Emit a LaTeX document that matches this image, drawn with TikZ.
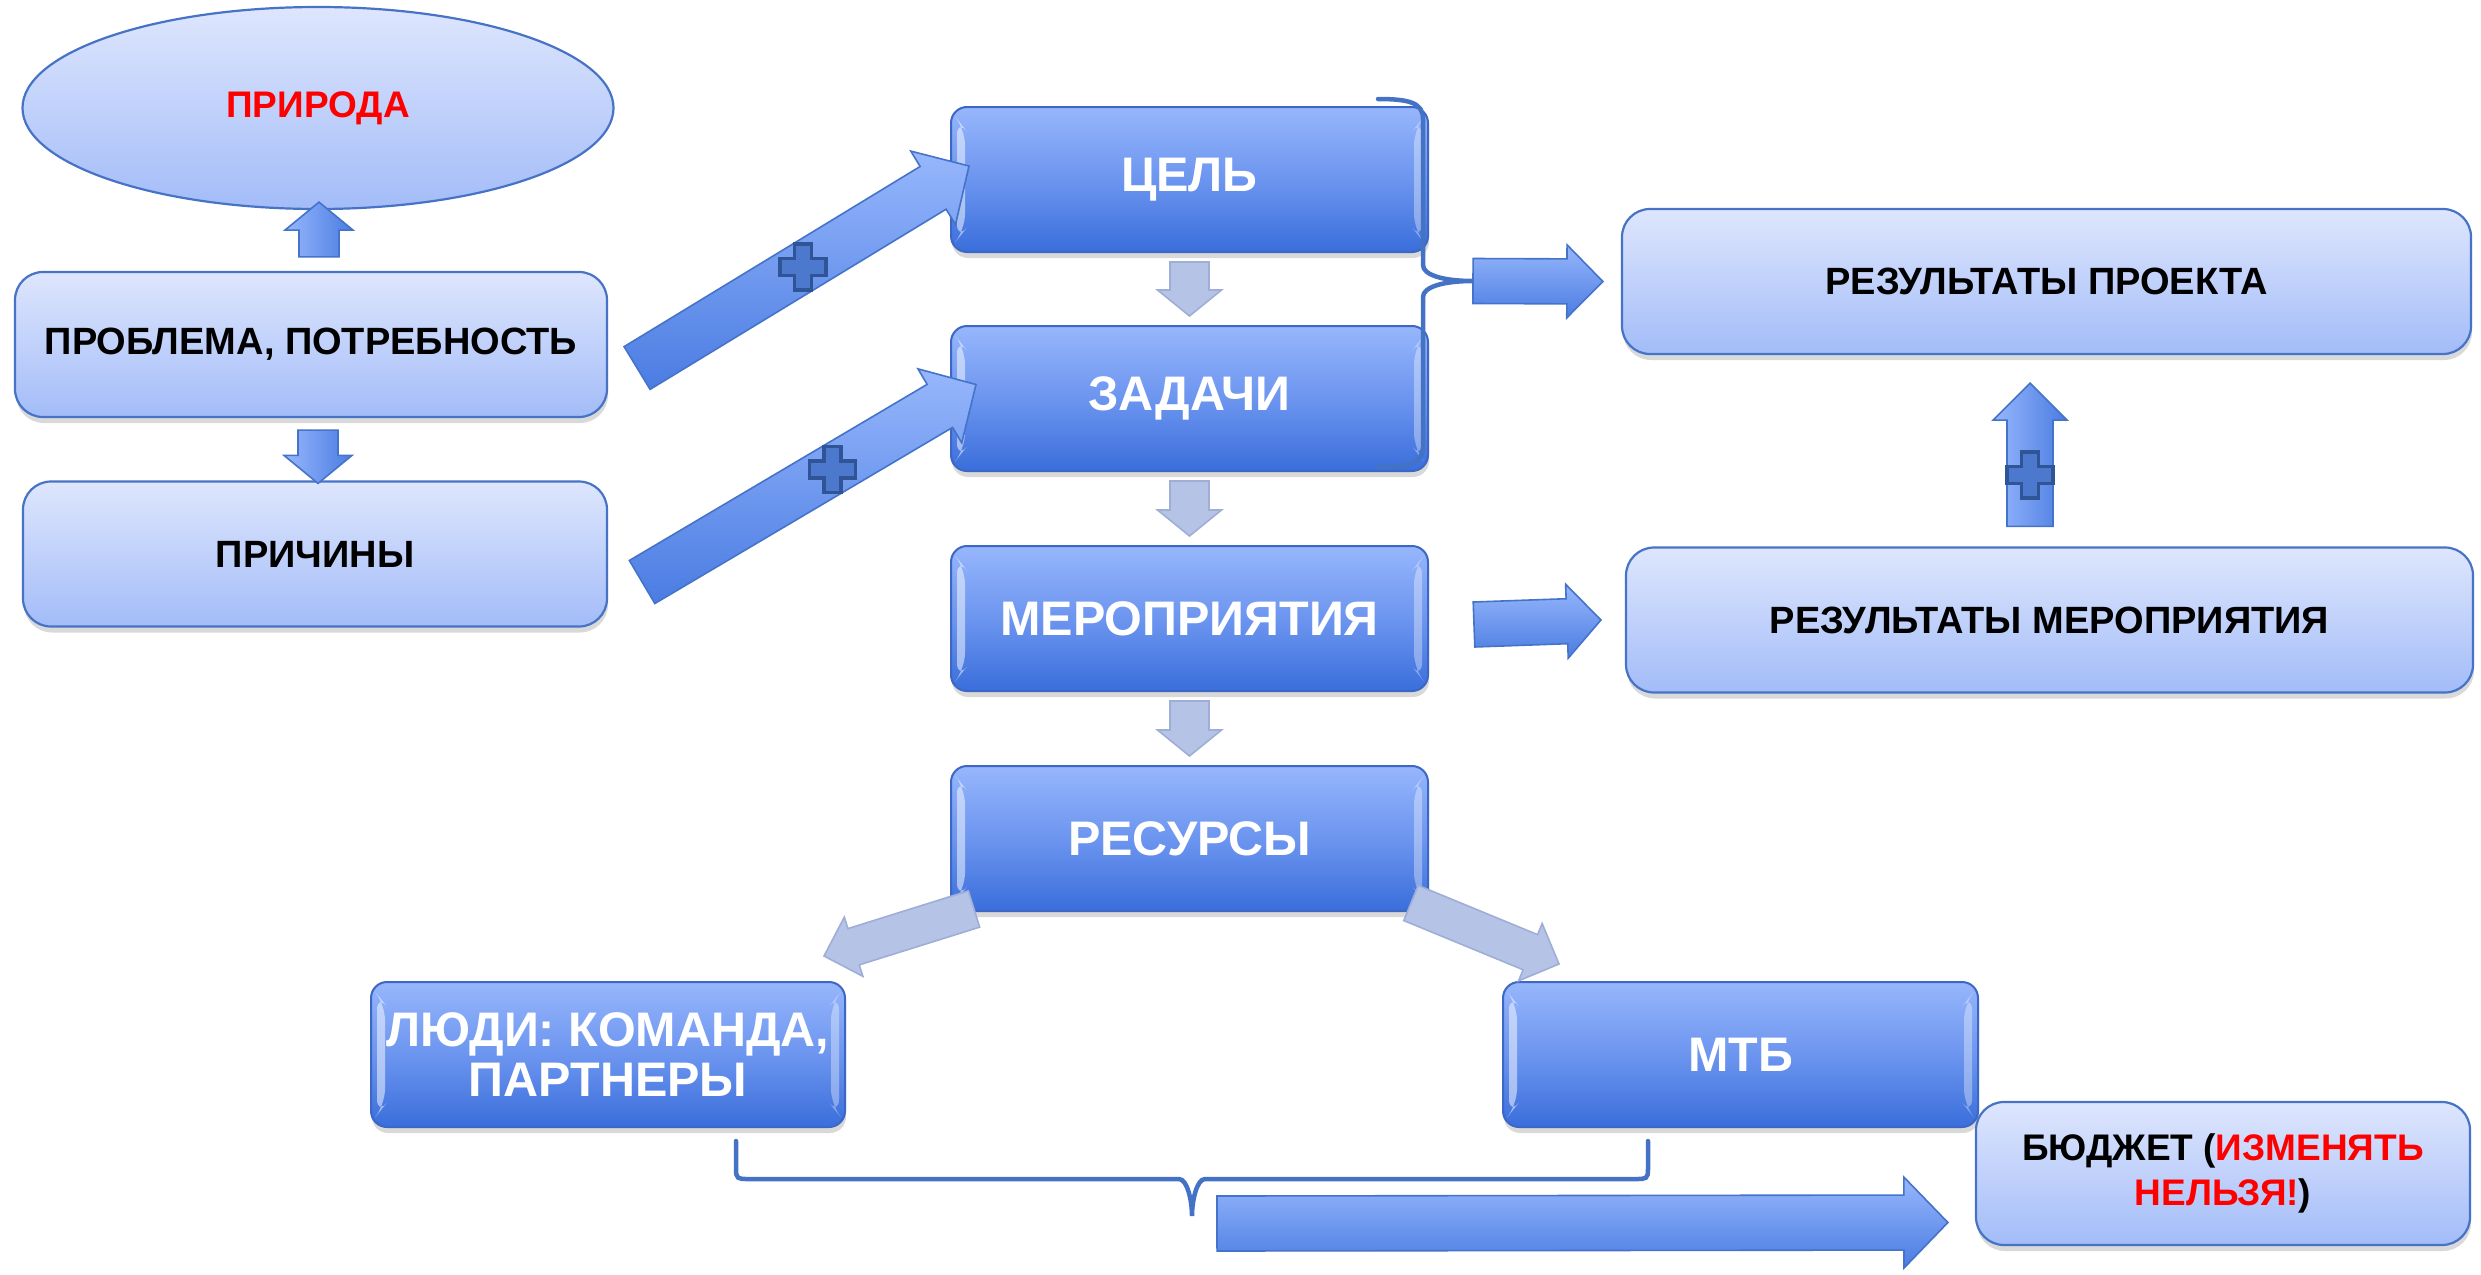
\documentclass[tikz,border=0pt]{standalone}
\usepackage{fontspec}
\setmainfont{Liberation Sans}
\usetikzlibrary{positioning,calc,shapes.geometric,shadows}

\definecolor{lighttop}{HTML}{DEE6FD}
\definecolor{lightbot}{HTML}{A3BCF8}
\definecolor{lightline}{HTML}{4773C6}
\definecolor{darktop}{HTML}{97B6FC}
\definecolor{darkmid}{HTML}{6C95EF}
\definecolor{darkbot}{HTML}{3A6EDB}
\definecolor{darkline}{HTML}{3C67C4}
\definecolor{arrowtop}{HTML}{97B7FC}
\definecolor{arrowbot}{HTML}{4A7CE2}
\definecolor{arrowline}{HTML}{4473C9}
\definecolor{greyfill}{HTML}{B4C3E6}
\definecolor{greyline}{HTML}{9EAED6}
\definecolor{plusfill}{HTML}{4C78CE}
\definecolor{plusline}{HTML}{2F5597}
\definecolor{bracecol}{HTML}{4472C4}

\tikzset{
  boxshadow/.style={drop shadow={shadow xshift=1pt, shadow yshift=-6pt, opacity=.25, fill=black!60}},
  lightbox/.style={rectangle, rounded corners=28pt, draw=lightline, line width=2.2pt,
    top color=lighttop, bottom color=lightbot, inner sep=0pt, align=center,
    minimum height=145pt, text=black, font=\bfseries\fontsize{38}{44}\selectfont, boxshadow},
  darkbox/.style={rectangle, rounded corners=16pt, draw=darkline, line width=2pt,
    top color=darktop, bottom color=darkbot, middle color=darkmid,
    minimum width=477pt, minimum height=145pt, inner sep=0pt, align=center,
    text=white, font=\bfseries\fontsize{48.5}{50}\selectfont, boxshadow,
    path picture={
      \fill[white, opacity=.5] ([xshift=6pt,yshift=-12pt]path picture bounding box.north west)
        -- ([xshift=14pt,yshift=-22pt]path picture bounding box.north west)
        -- ([xshift=14pt,yshift=22pt]path picture bounding box.south west)
        -- ([xshift=6pt,yshift=12pt]path picture bounding box.south west) -- cycle;
      \fill[white, opacity=.35] ([xshift=-6pt,yshift=-12pt]path picture bounding box.north east)
        -- ([xshift=-14pt,yshift=-22pt]path picture bounding box.north east)
        -- ([xshift=-14pt,yshift=22pt]path picture bounding box.south east)
        -- ([xshift=-6pt,yshift=12pt]path picture bounding box.south east) -- cycle;
    }},
  bluearrow/.style={draw=arrowline, line width=1.6pt, top color=arrowtop, bottom color=arrowbot},
  sidearrow/.style={draw=arrowline, line width=1.6pt, left color=arrowtop, right color=arrowbot},
  greyarrow/.style={draw=greyline, line width=1.6pt, fill=greyfill},
  bracket/.style={draw=bracecol, line width=4.5pt, line cap=round},
  plusmark/.style={fill=plusfill, draw=plusline, line width=3.5pt},
  pics/plussign/.style={code={
    \path[plusmark] (-8.5,-23) -- (8.5,-23) -- (8.5,-8.5) -- (23,-8.5) -- (23,8.5)
      -- (8.5,8.5) -- (8.5,23) -- (-8.5,23) -- (-8.5,8.5) -- (-23,8.5) -- (-23,-8.5)
      -- (-8.5,-8.5) -- cycle;}}
}

% block arrow: [style]{tail}{tip}{half shaft}{half head}{head length}
\newcommand{\blockarrow}[6][]{%
  \coordinate (ba-h) at ($(#3)!#6!(#2)$);
  \path[#1] ($(#2)!#4!90:(#3)$) -- ($(ba-h)!#4!90:(#3)$) -- ($(ba-h)!#5!90:(#3)$)
    -- (#3) -- ($(ba-h)!#5!-90:(#3)$) -- ($(ba-h)!#4!-90:(#3)$)
    -- ($(#2)!#4!-90:(#3)$) -- cycle;}

\begin{document}
\begin{tikzpicture}[x=1pt, y=-1pt]
  \useasboundingbox (0,0) rectangle (2481,1274);

  % left column
  \node[ellipse, draw=lightline, line width=2.2pt, top color=lighttop, bottom color=lightbot,
    minimum width=591pt, minimum height=202pt, inner sep=0pt, text=red,
    font=\bfseries\fontsize{37}{44}\selectfont] (nature) at (318,108) {ПРИРОДА};
  \node[lightbox, minimum width=592pt] (problem) at (311,344.5) {ПРОБЛЕМА, ПОТРЕБНОСТЬ};
  \node[lightbox, minimum width=584pt] (causes) at (315,554) {ПРИЧИНЫ};

  % middle column
  \node[darkbox] (goal) at (1189.5,179.5) {ЦЕЛЬ};
  \node[darkbox, below=72pt of goal] (tasks) {ЗАДАЧИ};
  \node[darkbox, below=73pt of tasks] (events) {МЕРОПРИЯТИЯ};
  \node[darkbox, below=73pt of events] (resources) {РЕСУРСЫ};
  \node[darkbox, minimum width=474pt] (people) at (608,1054.5) {ЛЮДИ: КОМАНДА,\\ПАРТНЕРЫ};
  \node[darkbox, minimum width=475pt] (mtb) at (1740.5,1054.5) {МТБ};

  % right column
  \node[lightbox, minimum width=849pt] (projres) at (2046.5,281.5) {РЕЗУЛЬТАТЫ ПРОЕКТА};
  \node[lightbox, minimum width=847pt] (evres) at (2049.5,620) {РЕЗУЛЬТАТЫ МЕРОПРИЯТИЯ};
  \node[lightbox, minimum width=494pt, minimum height=143pt,
    font=\bfseries\fontsize{37}{45}\selectfont] (budget) at (2223,1173.5)
    {БЮДЖЕТ (\textcolor{red}{ИЗМЕНЯТЬ}\\\textcolor{red}{НЕЛЬЗЯ!})};

  % braces
  \draw[bracket] ($(goal.north east)+(-51,-7)$) .. controls +(32,0) and +(0,-16) .. ++(45,20)
    -- ++(0,146) .. controls +(0,10) and +(-30,0) .. ++(50,16) coordinate (bt)
    .. controls +(-30,0) and +(0,-10) .. ++(-50,16) -- ++(0,150)
    .. controls +(0,16) and +(32,0) .. ++(-45,20);
  \draw[bracket] ($(people.south east)+(-110,13)$) -- ++(0,28)
    .. controls +(0,10) and +(-10,0) .. ++(12,10) -- ++(431,0)
    .. controls +(8,0) and +(0,-16) .. ++(13,37) coordinate (bb)
    .. controls +(0,-16) and +(-8,0) .. ++(13,-37) -- ++(431,0)
    .. controls +(10,0) and +(0,10) .. ++(12,-10) -- ++(0,-28);

  % arrow ends
  \coordinate (u1s) at ($(problem.north)+(8,-14)$);
  \coordinate (u1e) at ($(nature.south)+(1,-8)$);
  \coordinate (d1s) at ($(problem.south)+(7,12)$);
  \coordinate (d1e) at ($(causes.north)+(3,3)$);
  \coordinate (a1s) at ($(problem.east)+(29,23.5)$);
  \coordinate (a1e) at ($(goal.west)+(19,-13.5)$);
  \coordinate (a2s) at ($(causes.east)+(34,28)$);
  \coordinate (a2e) at ($(tasks.west)+(26,-14)$);
  \coordinate (r1e) at ($(projres.west)+(-18,0)$);
  \coordinate (r2s) at ($(events.east)+(45,6)$);
  \coordinate (r2e) at ($(evres.west)+(-24,0)$);
  \coordinate (u2s) at ($(evres.north)+(-19.5,-20)$);
  \coordinate (u2e) at ($(projres.south)+(-16.5,28)$);
  \coordinate (g1s) at ($(resources.south west)+(24,-3)$);
  \coordinate (g1e) at ($(people.north east)+(-22,-25)$);
  \coordinate (g2s) at ($(resources.south east)+(-18,-9)$);
  \coordinate (g2e) at ($(mtb.north west)+(57,-17)$);
  \coordinate (bas) at ($(bb)+(25,7.5)$);
  \coordinate (bae) at ($(budget.west)+(-27,49)$);

  % arrows
  \blockarrow[sidearrow]{u1s}{u1e}{20pt}{34pt}{28pt}
  \blockarrow[sidearrow]{d1s}{d1e}{20pt}{34pt}{28pt}
  \blockarrow[bluearrow]{a1s}{a1e}{25pt}{43pt}{42pt}
  \blockarrow[bluearrow]{a2s}{a2e}{25pt}{43pt}{42pt}
  \pic at ($(a1s)!0.5!(a1e)$) {plussign};
  \pic at ($(a2s)!0.57!(a2e)$) {plussign};

  \blockarrow[greyarrow]{$(goal.south)+(0,9)$}{$(tasks.north)+(0,-9)$}{19.5pt}{32pt}{26pt}
  \blockarrow[greyarrow]{$(tasks.south)+(0,9)$}{$(events.north)+(0,-9)$}{19.5pt}{32pt}{26pt}
  \blockarrow[greyarrow]{$(events.south)+(0,9)$}{$(resources.north)+(0,-9)$}{19.5pt}{32pt}{26pt}

  \blockarrow[bluearrow]{bt}{r1e}{22.5pt}{36.5pt}{36pt}
  \blockarrow[bluearrow]{r2s}{r2e}{22.5pt}{37pt}{34pt}
  \blockarrow[sidearrow]{u2s}{u2e}{23pt}{37pt}{37pt}
  \pic at ($(u2s)!0.36!(u2e)$) {plussign};

  \blockarrow[greyarrow]{g1s}{g1e}{19pt}{31pt}{31pt}
  \blockarrow[greyarrow]{g2s}{g2e}{19pt}{31pt}{31pt}
  \blockarrow[bluearrow]{bas}{bae}{27.5pt}{45.5pt}{44pt}
\end{tikzpicture}
\end{document}
